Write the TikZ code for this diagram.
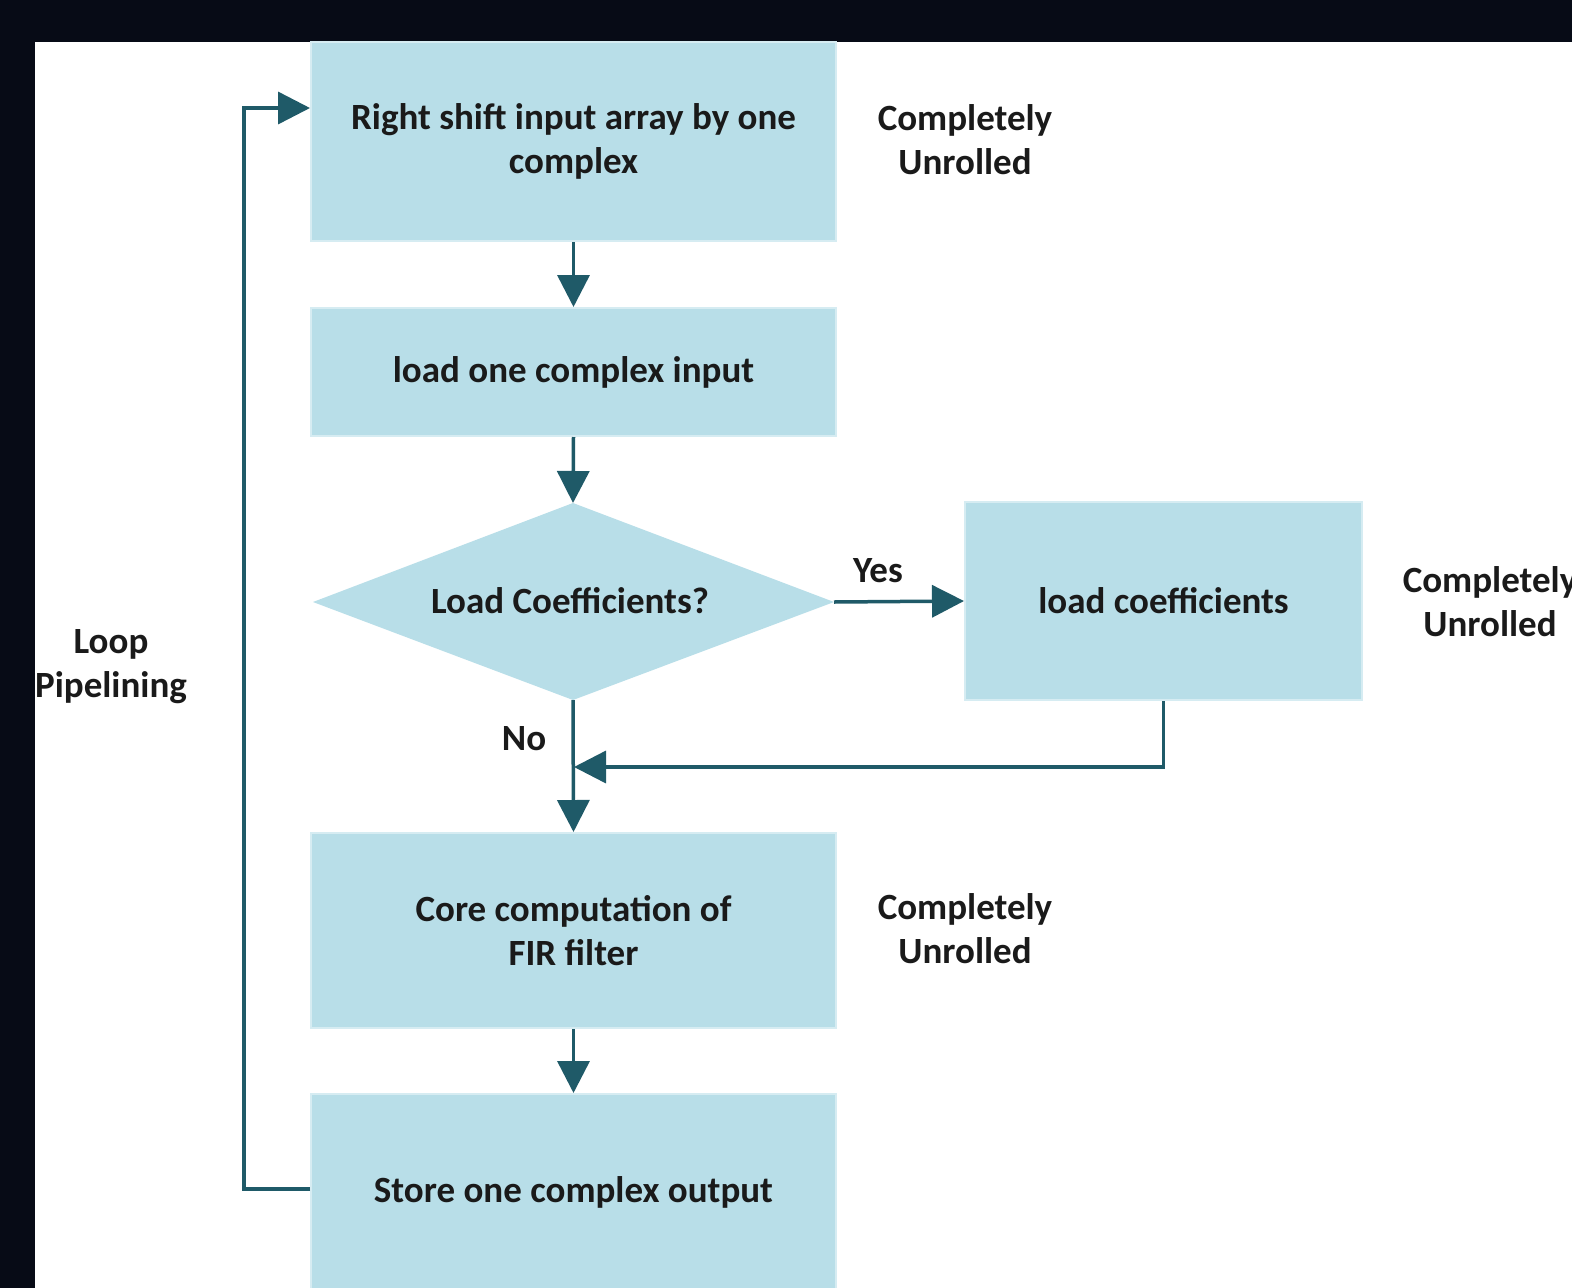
\documentclass[tikz,border=0pt]{standalone}
\usepackage{fontspec}
\setmainfont{Carlito}
\usetikzlibrary{arrows.meta,shapes.geometric}
\definecolor{boxfill}{HTML}{B8DEE8}
\definecolor{boxedge}{HTML}{D6ECF2}
\definecolor{arr}{HTML}{1F5A68}
\definecolor{bg}{HTML}{070B16}
\definecolor{txt}{HTML}{1A1A1A}
\begin{document}
\begin{tikzpicture}[x=1pt,y=-1pt,
  box/.style={draw=boxedge, line width=2pt, fill=boxfill, inner sep=0pt, text=txt, align=center, font=\fontsize{37}{44}\selectfont\bfseries},
  lbl/.style={text=txt, align=center, inner sep=0pt, font=\fontsize{37}{44}\selectfont\bfseries},
  conn/.style={draw=arr, line width=3.5pt, -{Triangle[length=32pt,width=32pt]}}]
\useasboundingbox (0,0) rectangle (1572,1288);
\fill[bg] (0,0) rectangle (1572,1288);
\fill[white] (35,42) rectangle (1572,1288);

\node[box, minimum width=525pt, minimum height=199pt] (b1) at (573.5,141.5) {Right shift input array by one\\complex};
\node[box, minimum width=525pt, minimum height=128pt] (b2) at (573.5,372) {load one complex input};
\coordinate (dl) at (313,602);
\coordinate (dt) at (573,503);
\coordinate (dr) at (834,602);
\coordinate (db) at (573,700);
\fill[boxfill] (dl) -- (dt) -- (dr) -- (db) -- cycle;
\node[lbl] (dtext) at (570,601) {Load Coefficients?};
\node[box, minimum width=397pt, minimum height=198pt] (b3) at (1163.5,601) {load coefficients};
\node[box, minimum width=525pt, minimum height=195pt] (b4) at (573.5,930.5) {Core computation of\\FIR filter};
\node[box, minimum width=525pt, minimum height=196pt] (b5) at (573.5,1192) {Store one complex output};

\node[lbl] (u1) at (965,140) {Completely\\Unrolled};
\node[lbl] (u2) at (1490,602) {Completely\\Unrolled};
\node[lbl] (u3) at (965,929) {Completely\\Unrolled};
\node[lbl] (lp) at (111,667) {Loop\\Pipelining};
\node[lbl] (yes) at (878,571) {Yes};
\node[lbl] (no) at (524,739) {No};

\coordinate (l1) at (244,1189);
\coordinate (l2) at (244,108);
\coordinate (m) at (574,767);

\draw[conn] (b1.south) -- (b2.north);
\draw[conn] (b2.south) -- (dt);
\draw[conn] (db) -- (b4.north);
\draw[conn] (dr) -- (b3.west);
\draw[conn] (b3.south) |- (m);
\draw[conn] (b4.south) -- (b5.north);
\draw[conn] (b5.west |- l1) -- (l1) -- (l2) -- (b1.west |- l2);
\end{tikzpicture}
\end{document}
